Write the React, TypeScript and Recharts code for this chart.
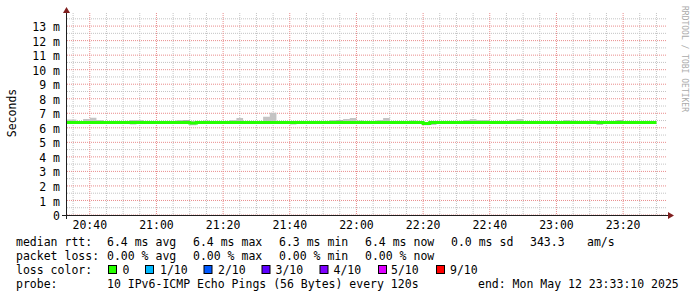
import React from 'react';
import { ComposedChart, Area, Line, XAxis, YAxis, CartesianGrid } from 'recharts';

// time is minutes after 20:00
const graphStart = 33 + 10 / 60; // 20:33:10
const graphEnd = graphStart + 180; // 23:33:10
const firstBin = 32;
const binStep = 2; // one row every 120 s

const medianRtt = [
  6.37, 6.37, 6.37, 6.37, 6.37, 6.37, 6.37, 6.37, 6.37, 6.37,
  6.37, 6.37, 6.37, 6.37, 6.37, 6.37, 6.37, 6.37, 6.37, 6.33,
  6.37, 6.37, 6.37, 6.37, 6.37, 6.37, 6.37, 6.37, 6.37, 6.37,
  6.37, 6.37, 6.37, 6.37, 6.37, 6.37, 6.37, 6.37, 6.37, 6.37,
  6.37, 6.37, 6.37, 6.37, 6.37, 6.37, 6.37, 6.37, 6.37, 6.37,
  6.37, 6.37, 6.37, 6.37, 6.3, 6.37, 6.37, 6.37, 6.37, 6.37,
  6.37, 6.37, 6.37, 6.37, 6.37, 6.37, 6.37, 6.37, 6.37, 6.37,
  6.37, 6.37, 6.37, 6.37, 6.37, 6.37, 6.37, 6.37, 6.37, 6.37,
  6.37, 6.37, 6.37, 6.37, 6.37, 6.37, 6.37, 6.37, 6.37,
];

const pingMax = [
  6.58, 6.58, 6.46, 6.6, 6.69, 6.53, 6.45, 6.45, 6.45, 6.45,
  6.53, 6.53, 6.45, 6.45, 6.45, 6.45, 6.45, 6.53, 6.53, 6.45,
  6.45, 6.45, 6.45, 6.45, 6.45, 6.53, 6.67, 6.45, 6.45, 6.45,
  6.76, 7.03, 6.45, 6.45, 6.45, 6.45, 6.45, 6.47, 6.47, 6.47,
  6.53, 6.53, 6.6, 6.67, 6.45, 6.45, 6.45, 6.53, 6.67, 6.45,
  6.45, 6.45, 6.45, 6.45, 6.4, 6.45, 6.45, 6.45, 6.45, 6.45,
  6.53, 6.6, 6.53, 6.53, 6.45, 6.45, 6.45, 6.53, 6.6, 6.45,
  6.45, 6.45, 6.45, 6.45, 6.45, 6.53, 6.45, 6.45, 6.45, 6.53,
  6.45, 6.45, 6.45, 6.53, 6.45, 6.45, 6.45, 6.45, 6.45,
];

const pingMin = [
  6.3, 6.3, 6.3, 6.3, 6.3, 6.3, 6.3, 6.3, 6.3, 6.3,
  6.22, 6.3, 6.3, 6.3, 6.3, 6.3, 6.3, 6.3, 6.3, 6.17,
  6.3, 6.3, 6.3, 6.3, 6.3, 6.3, 6.3, 6.3, 6.3, 6.3,
  6.3, 6.3, 6.3, 6.3, 6.22, 6.3, 6.3, 6.3, 6.3, 6.3,
  6.3, 6.3, 6.3, 6.3, 6.3, 6.3, 6.3, 6.3, 6.3, 6.3,
  6.3, 6.3, 6.3, 6.3, 6.18, 6.2, 6.3, 6.3, 6.3, 6.3,
  6.3, 6.3, 6.3, 6.3, 6.3, 6.3, 6.3, 6.3, 6.3, 6.3,
  6.3, 6.3, 6.3, 6.3, 6.3, 6.3, 6.3, 6.3, 6.3, 6.3,
  6.2, 6.3, 6.3, 6.3, 6.3, 6.3, 6.3, 6.3, 6.3,
];

// bins where the inner pings spread a little (darker smoke)
const darkBins = [18, 21, 41, 44, 52, 76, 83];
const darkTop = [6.5, 6.49, 6.5, 6.49, 6.49, 6.49, 6.5];

const xTicks = [40, 60, 80, 100, 120, 140, 160, 180, 200];
const xTickLabels = ['20:40', '21:00', '21:20', '21:40', '22:00', '22:20', '22:40', '23:00', '23:20'];
const yTicks = [0, 1, 2, 3, 4, 5, 6, 7, 8, 9, 10, 11, 12, 13];
const yTickLabels = ['0', '1 m', '2 m', '3 m', '4 m', '5 m', '6 m', '7 m', '8 m', '9 m', '10 m', '11 m', '12 m', '13 m'];

const xMinor: number[] = [];
for (let m = 35; m <= 210; m += 5) if (!xTicks.includes(m)) xMinor.push(m);
const yMinor = yTicks.map((v) => v + 0.5);

const lossNames = ['0', '1/10', '2/10', '3/10', '4/10', '5/10', '9/10'];
const lossColors = ['#26ff00', '#00b8ff', '#0059ff', '#5e00ff', '#7e00ff', '#dd00ff', '#ff0000'];
const lossBoxX = [108.5, 145.5, 204, 262, 320, 378.5, 436.5];
const lossLabelX = [122.5, 160, 218, 275.5, 333.5, 391, 450];

const rttLine = ['median rtt:', '6.4 ms avg', '6.4 ms max', '6.3 ms min', '6.4 ms now', '0.0 ms sd', '343.3', 'am/s'];
const rttX = [16, 107, 193, 279, 365, 451, 530, 587];
const lossLine = ['packet loss:', '0.00 % avg', '0.00 % max', '0.00 % min', '0.00 % now'];
const lossX = [16, 107, 193, 279, 365];
const probeLine = ['probe:', '10 IPv6-ICMP Echo Pings (56 Bytes) every 120s', 'end: Mon May 12 23:33:10 2025'];
const probeX = [16, 107, 478];

const FONT = '"DejaVu Sans Mono", monospace';
const FS = 11.5;

const rows = medianRtt.map((med, i) => {
  const d = darkBins.indexOf(i);
  return {
    t: firstBin + i * binStep,
    median: med,
    smoke: [pingMin[i], pingMax[i]],
    dark: d >= 0 ? [med, darkTop[d]] : [med, med],
  };
});
rows.push({ ...rows[rows.length - 1], t: firstBin + medianRtt.length * binStep });

const tickStyle = { fontFamily: FONT, fontSize: FS, fill: '#000' };

export default function App() {
  return (
    <div style={{ position: 'absolute', left: 0, top: 0, width: 697, height: 297, background: '#fff' }}>
      <ComposedChart
        width={697}
        height={297}
        data={rows}
        margin={{ top: 13, right: 30, left: 7, bottom: 62 }}
      >
        <CartesianGrid
          stroke="#c4c4c4"
          strokeDasharray="1 1"
          horizontalValues={yMinor}
          verticalValues={xMinor}
        />
        <CartesianGrid
          stroke="#e98c8c"
          strokeDasharray="1 1"
          horizontalValues={yTicks}
          verticalValues={xTicks}
        />
        <XAxis
          dataKey="t"
          type="number"
          domain={[graphStart, graphEnd]}
          allowDataOverflow
          ticks={xTicks}
          interval={0}
          tickFormatter={(v: number) => xTickLabels[xTicks.indexOf(v)]}
          axisLine={false}
          tickLine={false}
          tickSize={2}
          tickMargin={4}
          height={20}
          tick={tickStyle}
        />
        <YAxis
          type="number"
          domain={[0, 13.9]}
          allowDataOverflow
          ticks={yTicks}
          interval={0}
          tickFormatter={(v: number) => yTickLabels[yTicks.indexOf(v)]}
          axisLine={false}
          tickLine={false}
          tickSize={3}
          tickMargin={4}
          width={60}
          tick={{ ...tickStyle, dy: 1 }}
        />
        <Area
          dataKey="smoke"
          type="stepAfter"
          stroke="none"
          fill="#c4c4c4"
          fillOpacity={1}
          isAnimationActive={false}
        />
        <Area
          dataKey="dark"
          type="stepAfter"
          stroke="none"
          fill="#999999"
          fillOpacity={1}
          isAnimationActive={false}
        />
        <Line
          dataKey="median"
          type="stepAfter"
          stroke="#26ff00"
          strokeWidth={3}
          dot={false}
          isAnimationActive={false}
        />
      </ComposedChart>

      <svg
        width={697}
        height={297}
        style={{ position: 'absolute', left: 0, top: 0, pointerEvents: 'none' }}
      >
        <line x1={62} y1={215.5} x2={668} y2={215.5} stroke="#1f1f1f" />
        <line x1={66.5} y1={219} x2={66.5} y2={12} stroke="#1f1f1f" />
        <polygon points="66.5,7 63,13 70,13" fill="#801f1f" />
        <polygon points="674,215.5 668,212 668,219" fill="#801f1f" />

        <text
          transform="translate(16,113) rotate(-90)"
          textAnchor="middle"
          fontFamily={FONT}
          fontSize={FS}
          fill="#000"
        >
          Seconds
        </text>
        <text
          transform="translate(682,6) rotate(90)"
          fontFamily={FONT}
          fontSize={8}
          fill="#aaaaaa"
        >
          RRDTOOL / TOBI OETIKER
        </text>

        <g fontFamily={FONT} fontSize={FS} fill="#000" style={{ whiteSpace: 'pre' }}>
          {rttLine.map((s, i) => (
            <text key={'r' + i} x={rttX[i]} y={245.5}>{s}</text>
          ))}
          {lossLine.map((s, i) => (
            <text key={'l' + i} x={lossX[i]} y={259.5}>{s}</text>
          ))}
          <text x={16} y={273.5}>loss color:</text>
          {lossNames.map((s, i) => (
            <g key={'c' + i}>
              <rect x={lossBoxX[i]} y={265.5} width={8} height={8} fill={lossColors[i]} stroke="#000" strokeWidth={1} />
              <text x={lossLabelX[i]} y={273.5}>{s}</text>
            </g>
          ))}
          {probeLine.map((s, i) => (
            <text key={'p' + i} x={probeX[i]} y={287.5}>{s}</text>
          ))}
        </g>
      </svg>
    </div>
  );
}
